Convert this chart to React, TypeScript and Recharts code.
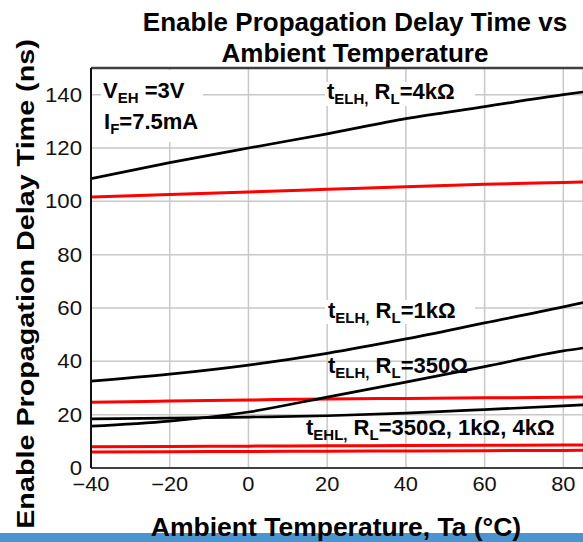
import React from 'react';
import { LineChart, Line, XAxis, YAxis, CartesianGrid, ReferenceLine, Customized } from 'recharts';

// Ambient temperature (°C)
const temps = [-40, -20, 0, 20, 40, 60, 80, 85];
// Black curves (ns)
const tELH4k = [108.5, 114.5, 120, 125.3, 131, 135.5, 140, 141];
const tELH1k = [32.6, 35.2, 38.6, 43, 48.4, 54.4, 60.4, 62];
const tELH350 = [15.7, 17.6, 21, 26.6, 32.2, 38, 43.9, 45];
const tEHL = [18.4, 18.7, 19.1, 19.6, 20.6, 21.9, 23.3, 23.7];
// Red curves (ns)
const red1 = [101.6, 102.6, 103.5, 104.5, 105.5, 106.4, 107.1, 107.3];
const red2 = [24.7, 25.1, 25.5, 25.9, 26.1, 26.3, 26.5, 26.6];
const red3 = [8, 8.1, 8.2, 8.3, 8.4, 8.5, 8.6, 8.6];
const red4 = [6, 6.1, 6.2, 6.3, 6.4, 6.5, 6.6, 6.7];

const xTicks = [-40, -20, 0, 20, 40, 60, 80];
const yTicks = [0, 20, 40, 60, 80, 100, 120, 140];

const data = temps.map((t, i) => ({
  t,
  t4k: tELH4k[i],
  t1k: tELH1k[i],
  t350: tELH350[i],
  tehl: tEHL[i],
  r1: red1[i],
  r2: red2[i],
  r3: red3[i],
  r4: red4[i],
}));

const FONT = '"Liberation Sans", Arial, Helvetica, sans-serif';
const fmt = (v: number) => (v < 0 ? '\u2212' + Math.abs(v) : String(v));

function XTick(props: any) {
  const { x, y, payload } = props;
  return (
    <text
      x={x}
      y={y}
      dy="0.75em"
      textAnchor="middle"
      fontFamily={FONT}
      fontSize={19.5}
      fill="#111"
      transform={`translate(${x},0) scale(1.12,1) translate(${-x},0)`}
    >
      {fmt(payload.value)}
    </text>
  );
}

function YTick(props: any) {
  const { x, y, payload } = props;
  return (
    <text
      x={x}
      y={y}
      dy="0.36em"
      textAnchor="end"
      fontFamily={FONT}
      fontSize={19.5}
      fill="#111"
      transform={`translate(${x},0) scale(1.14,1) translate(${-x},0)`}
    >
      {fmt(payload.value)}
    </text>
  );
}

const SUB = 15;

function Label({ x, y, main, sub, rest, sub2, rest2 }: any) {
  return (
    <text x={x} y={y} fontFamily={FONT} fontSize={22} fontWeight="bold" fill="#000" style={{ whiteSpace: 'pre' }}>
      <tspan>{main}</tspan>
      <tspan fontSize={SUB} dy={5}>{sub}</tspan>
      <tspan dy={-5}>{rest}</tspan>
      {sub2 !== undefined && <tspan fontSize={SUB} dy={5}>{sub2}</tspan>}
      {rest2 !== undefined && <tspan dy={-5}>{rest2}</tspan>}
    </text>
  );
}

function Decorations() {
  return (
    <g>
      {/* title */}
      <text x={355} y={31} textAnchor="middle" fontFamily={FONT} fontSize={26} fontWeight="bold" fill="#000">
        Enable Propagation Delay Time vs
      </text>
      <text x={355} y={62} textAnchor="middle" fontFamily={FONT} fontSize={26} fontWeight="bold" fill="#000">
        Ambient Temperature
      </text>
      {/* y axis title */}
      <text
        transform="translate(34,284) rotate(-90) scale(1.25,1)"
        x={0}
        y={0}
        textAnchor="middle"
        fontFamily={FONT}
        fontSize={23}
        fontWeight="bold"
        fill="#000"
      >
        Enable Propagation Delay Time (ns)
      </text>
      {/* bottom band */}
      <rect x={0} y={533} width={583} height={9} fill="#4a95d0" />
      <text x={336} y={536} textAnchor="middle" fontFamily={FONT} fontSize={26.5} fontWeight="bold" fill="#000">
        Ambient Temperature, Ta (°C)
      </text>
      {/* annotation boxes */}
      <rect x={101} y={70} width={102} height={72} fill="#fff" />
      <rect x={325} y={82} width={150} height={24} fill="#fff" />
      <rect x={325} y={300} width={150} height={24} fill="#fff" />
      {/* annotations */}
      <Label x={103} y={98} main="V" sub="EH" rest=" =3V" />
      <Label x={104} y={129} main="I" sub="F" rest="=7.5mA" />
      <Label x={327} y={99} main="t" sub="ELH," rest=" R" sub2="L" rest2="=4kΩ" />
      <Label x={328} y={318} main="t" sub="ELH," rest=" R" sub2="L" rest2="=1kΩ" />
      <Label x={328} y={373} main="t" sub="ELH," rest=" R" sub2="L" rest2="=350Ω" />
      <Label x={306} y={435} main="t" sub="EHL," rest=" R" sub2="L" rest2="=350Ω, 1kΩ, 4kΩ" />
    </g>
  );
}

export default function App() {
  return (
    <div style={{ position: 'absolute', left: 0, top: 0, width: 583, height: 542, background: '#fff' }}>
      <LineChart width={583} height={542} data={data} margin={{ top: 68, right: 0, bottom: 0, left: 0 }}>
        <CartesianGrid stroke="#c8c8c8" strokeWidth={1.5} />
        <XAxis
          dataKey="t"
          type="number"
          domain={[-40, 85]}
          ticks={xTicks}
          height={74}
          tickSize={0}
          tickMargin={8}
          tickLine={false}
          axisLine={{ stroke: '#404040', strokeWidth: 2 }}
          tick={<XTick />}
          allowDataOverflow
        />
        <YAxis
          type="number"
          domain={[0, 150]}
          ticks={yTicks}
          width={91}
          tickSize={0}
          tickMargin={9}
          tickLine={false}
          axisLine={{ stroke: '#111', strokeWidth: 2 }}
          tick={<YTick />}
        />
        <ReferenceLine y={150} stroke="#404040" strokeWidth={2.5} />
        <Customized component={Decorations} />
        <Line dataKey="r1" type="monotone" stroke="#ff0000" strokeWidth={3} dot={false} isAnimationActive={false} />
        <Line dataKey="r2" type="monotone" stroke="#ff0000" strokeWidth={3} dot={false} isAnimationActive={false} />
        <Line dataKey="r3" type="monotone" stroke="#ff0000" strokeWidth={3} dot={false} isAnimationActive={false} />
        <Line dataKey="r4" type="monotone" stroke="#ff0000" strokeWidth={3} dot={false} isAnimationActive={false} />
        <Line dataKey="t4k" type="monotone" stroke="#000" strokeWidth={2.7} dot={false} isAnimationActive={false} />
        <Line dataKey="t1k" type="monotone" stroke="#000" strokeWidth={2.7} dot={false} isAnimationActive={false} />
        <Line dataKey="t350" type="monotone" stroke="#000" strokeWidth={2.7} dot={false} isAnimationActive={false} />
        <Line dataKey="tehl" type="monotone" stroke="#000" strokeWidth={2.7} dot={false} isAnimationActive={false} />
      </LineChart>
    </div>
  );
}
